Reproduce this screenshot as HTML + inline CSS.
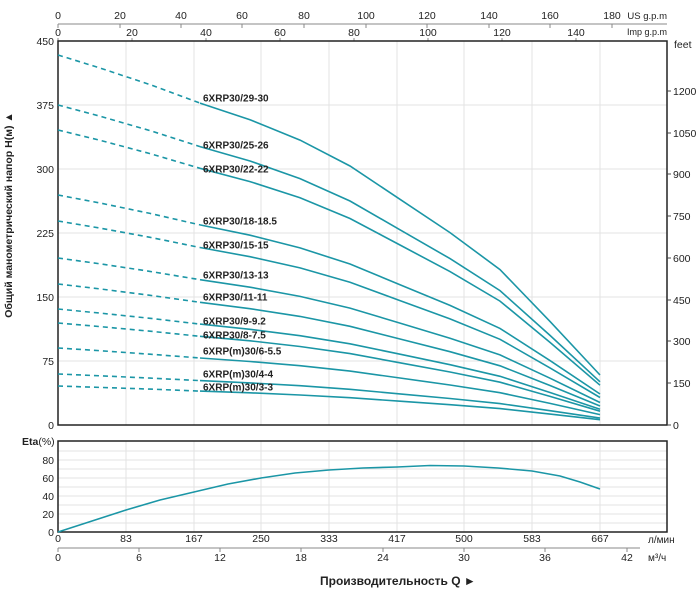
<!DOCTYPE html>
<html><head><meta charset="utf-8"><style>
html,body{margin:0;padding:0;background:#fff;}
svg{display:block;font-family:"Liberation Sans",sans-serif;}
</style></head><body>
<svg width="700" height="591" viewBox="0 0 700 591" xmlns="http://www.w3.org/2000/svg">
<!-- top axes -->
<g stroke="#888" stroke-width="1" fill="none">
<line x1="58" y1="24" x2="667" y2="24"/>
<path d="M58,24v4M120,24v4M181,24v4M242,24v4M304,24v4M366,24v4M427,24v4M489,24v4M550,24v4M612,24v4"/>
<path d="M58,38v3M132,38v3M206,38v3M280,38v3M354,38v3M428,38v3M502,38v3M576,38v3"/>
</g>
<g font-size="10.5" fill="#222" text-anchor="middle">
<text x="58" y="19">0</text><text x="120" y="19">20</text><text x="181" y="19">40</text><text x="242" y="19">60</text><text x="304" y="19">80</text><text x="366" y="19">100</text><text x="427" y="19">120</text><text x="489" y="19">140</text><text x="550" y="19">160</text><text x="612" y="19">180</text>
<text x="58" y="36">0</text><text x="132" y="36">20</text><text x="206" y="36">40</text><text x="280" y="36">60</text><text x="354" y="36">80</text><text x="428" y="36">100</text><text x="502" y="36">120</text><text x="576" y="36">140</text>
</g>
<text x="667" y="19" font-size="9.5" fill="#222" text-anchor="end">US g.p.m</text>
<text x="667" y="35" font-size="9" fill="#222" text-anchor="end">Imp g.p.m</text>
<!-- main grid -->
<g stroke="#e3e3e3" stroke-width="1">
<path d="M126,41V425M194,41V425M261,41V425M329,41V425M397,41V425M464,41V425M532,41V425M600,41V425"/>
<path d="M58,105H667M58,169H667M58,233H667M58,297H667M58,361H667"/>
</g>
<rect x="58" y="41" width="609" height="384" fill="none" stroke="#222" stroke-width="1.5"/>
<!-- left ticks -->
<g font-size="10.5" fill="#222" text-anchor="end">
<text x="54" y="45">450</text><text x="54" y="109">375</text><text x="54" y="173">300</text><text x="54" y="237">225</text><text x="54" y="301">150</text><text x="54" y="365">75</text><text x="54" y="429">0</text>
</g>
<!-- right ticks -->
<g stroke="#444" stroke-width="1"><path d="M667,91h4M667,133h4M667,174h4M667,216h4M667,258h4M667,300h4M667,341h4M667,383h4M667,425h4"/></g>
<g font-size="10.5" fill="#222">
<text x="674" y="48">feet</text>
<text x="673" y="95">1200</text><text x="673" y="137">1050</text><text x="673" y="178">900</text><text x="673" y="220">750</text><text x="673" y="262">600</text><text x="673" y="304">450</text><text x="673" y="345">300</text><text x="673" y="387">150</text><text x="673" y="429">0</text>
</g>
<text transform="translate(12,215) rotate(-90)" font-size="10.5" font-weight="bold" fill="#222" text-anchor="middle">Общий манометрический напор H(м) ▲</text>
<!-- curves -->
<g fill="none" stroke="#1b96a6" stroke-width="1.6">
<g stroke-dasharray="5,4">
<polyline points="58,55 100,68 150,84.6 200,103.1"/>
<polyline points="58,105 100,116.2 150,130.6 200,146.6"/>
<polyline points="58,130 100,140.3 150,153.6 200,168.3"/>
<polyline points="58,195 100,203 150,213.4 200,224.9"/>
<polyline points="58,221 100,228.1 150,237.3 200,247.5"/>
<polyline points="58,258 100,263.8 150,271.4 200,279.7"/>
<polyline points="58,284 100,288.9 150,295.3 200,302.3"/>
<polyline points="58,309 100,313.1 150,318.3 200,324.1"/>
<polyline points="58,323 100,326.6 150,331.2 200,336.3"/>
<polyline points="58,348 100,350.7 150,354.2 200,358"/>
<polyline points="58,374 100,375.8 150,378.1 200,380.6"/>
<polyline points="58,386 100,387.4 150,389.1 200,391.1"/>
</g>
<polyline points="200,103.1 250,119.7 300,140.1 350,166 400,199.3 450,232.6 500,269.6 550,321.4 600,375"/>
<polyline points="200,146.6 250,161 300,178.6 350,201 400,229.8 450,258.6 500,290.6 550,335.4 600,381.8"/>
<polyline points="200,168.3 250,181.6 300,197.8 350,218.5 400,245 450,271.6 500,301.1 550,342.4 600,385.2"/>
<polyline points="200,224.9 250,235.2 300,247.9 350,264 400,284.7 450,305.4 500,328.4 550,360.6 600,394"/>
<polyline points="200,247.5 250,256.7 300,267.9 350,282.2 400,300.6 450,318.9 500,339.3 550,367.9 600,397.5"/>
<polyline points="200,279.7 250,287.2 300,296.4 350,308.1 400,323.1 450,338.2 500,354.9 550,378.2 600,402.5"/>
<polyline points="200,302.3 250,308.7 300,316.4 350,326.3 400,339 450,351.7 500,365.8 550,385.5 600,406"/>
<polyline points="200,324.1 250,329.3 300,335.7 350,343.8 400,354.2 450,364.7 500,376.3 550,392.5 600,409.3"/>
<polyline points="200,336.3 250,340.8 300,346.5 350,353.6 400,362.8 450,372 500,382.2 550,396.4 600,411.2"/>
<polyline points="200,358 250,361.5 300,365.7 350,371.1 400,378 450,385 500,392.7 550,403.4 600,414.6"/>
<polyline points="200,380.6 250,382.9 300,385.7 350,389.3 400,393.9 450,398.5 500,403.6 550,410.7 600,418.1"/>
<polyline points="200,391.1 250,392.8 300,395 350,397.7 400,401.2 450,404.7 500,408.6 550,414.1 600,419.7"/>
</g>
<g font-size="10" font-weight="bold" fill="#222" dominant-baseline="middle">
<text x="203" y="99">6XRP30/29-30</text>
<text x="203" y="146">6XRP30/25-26</text>
<text x="203" y="170">6XRP30/22-22</text>
<text x="203" y="222">6XRP30/18-18.5</text>
<text x="203" y="246">6XRP30/15-15</text>
<text x="203" y="276">6XRP30/13-13</text>
<text x="203" y="298">6XRP30/11-11</text>
<text x="203" y="322">6XRP30/9-9.2</text>
<text x="203" y="336">6XRP30/8-7.5</text>
<text x="203" y="352">6XRP(m)30/6-5.5</text>
<text x="203" y="375">6XRP(m)30/4-4</text>
<text x="203" y="388">6XRP(m)30/3-3</text>
</g>
<!-- lower chart -->
<g stroke="#e3e3e3" stroke-width="1">
<path d="M126,441V532M194,441V532M261,441V532M329,441V532M397,441V532M464,441V532M532,441V532M600,441V532"/>
<path d="M58,451H667M58,460H667M58,469H667M58,478H667M58,487H667M58,496H667M58,505H667M58,514H667M58,523H667"/>
</g>
<rect x="58" y="441" width="609" height="91" fill="none" stroke="#222" stroke-width="1.5"/>
<text x="22" y="445" font-size="10.5" fill="#222"><tspan font-weight="bold">Eta</tspan>(%)</text>
<g font-size="10.5" fill="#222" text-anchor="end">
<text x="54" y="464">80</text><text x="54" y="482">60</text><text x="54" y="500">40</text><text x="54" y="518">20</text><text x="54" y="536">0</text>
</g>
<polyline fill="none" stroke="#1b96a6" stroke-width="1.6" points="58,532 92,521 126,510 160,500 194,492 228,484 261,478 295,473 329,470 363,468 397,467 430,465.5 464,466 498,468 532,471 560,476 580,482 600,489"/>
<g font-size="10.5" fill="#222" text-anchor="middle">
<text x="58" y="542">0</text><text x="126" y="542">83</text><text x="194" y="542">167</text><text x="261" y="542">250</text><text x="329" y="542">333</text><text x="397" y="542">417</text><text x="464" y="542">500</text><text x="532" y="542">583</text><text x="600" y="542">667</text>
</g>
<text x="648" y="543" font-size="10" fill="#222">л/мин</text>
<g stroke="#888" stroke-width="1" fill="none">
<line x1="58" y1="548" x2="640" y2="548"/>
<path d="M58,548v4M139,548v4M220,548v4M301,548v4M383,548v4M464,548v4M545,548v4M627,548v4"/>
</g>
<g font-size="10.5" fill="#222" text-anchor="middle">
<text x="58" y="561">0</text><text x="139" y="561">6</text><text x="220" y="561">12</text><text x="301" y="561">18</text><text x="383" y="561">24</text><text x="464" y="561">30</text><text x="545" y="561">36</text><text x="627" y="561">42</text>
</g>
<text x="648" y="561" font-size="10" fill="#222">м³/ч</text>
<text x="320" y="585" font-size="12" font-weight="bold" fill="#222">Производительность Q  ►</text>
</svg>
</body></html>
